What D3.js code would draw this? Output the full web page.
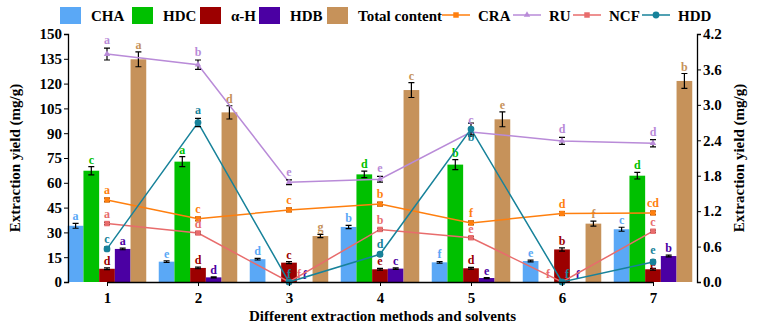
<!DOCTYPE html>
<html>
<head>
<meta charset="utf-8">
<script src="https://cdn.jsdelivr.net/npm/d3@7"></script>
<style>
  body { margin: 0; background: #fff; }
  svg text { font-family: "Liberation Serif", "Tinos", "Times New Roman", "DejaVu Serif", serif !important; font-weight: bold; }
</style>
</head>
<body>
<svg width="759" height="329"></svg>
<script>
'use strict';

const groups = ["1", "2", "3", "4", "5", "6", "7"];

// bar series (left axis, mg/g)
const cha = [34, 12.3, 13.8, 33.3, 11.9, 12.7, 31.9];
const chaErr = [1.5, 0.5, 0.5, 1, 0.5, 0.5, 1.2];
const chaSig = ["a", "e", "d", "b", "f", "e", "c"];
const hdc = [67.3, 72.8, 0, 65.1, 71, 0, 64.3];
const hdcErr = [2.5, 3, 0, 2, 3, 0, 2];
const hdcSig = ["c", "a", "", "d", "b", "", "d"];
const alphaH = [8, 8.5, 11.7, 7.7, 8.3, 19.7, 7.7];
const alphaHErr = [0.5, 0.5, 0.6, 0.5, 0.5, 1, 0.5];
const alphaHSig = ["d", "d", "c", "e", "d", "b", "e"];
const hdb = [20, 2.8, 0, 8.1, 2.4, 0, 15.7];
const hdbErr = [0.5, 0.3, 0, 0.5, 0.3, 0, 0.5];
const hdbSig = ["a", "d", "f", "c", "e", "f", "b"];
const total = [134.7, 102.6, 27.8, 116.1, 98.4, 35.3, 121.6];
const totalErr = [4.5, 4, 1, 4.5, 4.5, 1.5, 4.5];
const totalSig = ["a", "d", "g", "c", "e", "f", "b"];

// line series (right axis, mg/g)
const cra = [1.39, 1.07, 1.22, 1.32, 1.00, 1.16, 1.17];
const craErr = [0.03, 0.03, 0.03, 0.03, 0.03, 0.03, 0.03];
const craSig = ["a", "c", "c", "b", "f", "d", "cd"];
const ru = [3.86, 3.68, 1.69, 1.74, 2.54, 2.39, 2.35];
const ruErr = [0.1, 0.08, 0.04, 0.05, 0.07, 0.06, 0.06];
const ruSig = ["a", "b", "e", "e", "c", "d", "d"];
const ncf = [0.99, 0.83, 0, 0.89, 0.75, 0, 0.86];
const ncfErr = [0.02, 0.02, 0, 0.02, 0.02, 0, 0.02];
const ncfSig = ["a", "d", "f", "b", "e", "f", "c"];
const hdd = [0.56, 2.70, 0, 0.47, 2.59, 0, 0.34];
const hddErr = [0.03, 0.07, 0, 0.03, 0.1, 0, 0.03];
const hddSig = ["c", "a", "f", "d", "b", "f", "e"];

const bars = [
  {name: "CHA", color: "#5aa8f6", values: cha, err: chaErr, sig: chaSig},
  {name: "HDC", color: "#00c000", values: hdc, err: hdcErr, sig: hdcSig},
  {name: "α-H", color: "#9c0000", values: alphaH, err: alphaHErr, sig: alphaHSig},
  {name: "HDB", color: "#4b00a3", values: hdb, err: hdbErr, sig: hdbSig},
  {name: "Total content", color: "#c6925a", values: total, err: totalErr, sig: totalSig}
];
const lines = [
  {name: "CRA", color: "#ff7f0e", symbol: d3.symbolSquare, size: 30, values: cra, err: craErr, sig: craSig},
  {name: "RU", color: "#b98bd8", symbol: d3.symbolTriangle, size: 18, values: ru, err: ruErr, sig: ruSig},
  {name: "NCF", color: "#e86c6c", symbol: d3.symbolSquare, size: 30, values: ncf, err: ncfErr, sig: ncfSig},
  {name: "HDD", color: "#17829a", symbol: d3.symbolCircle, size: 36, values: hdd, err: hddErr, sig: hddSig}
];

const svg = d3.select("svg");
const marginLeft = 68, marginTop = 34, width = 629, height = 248;
const g = svg.append("g").attr("transform", `translate(${marginLeft},${marginTop})`);

const x = d3.scalePoint().domain(groups).range([39, 585]);
const xSub = d3.scaleBand().domain(bars.map(d => d.name)).range([-39.25, 39.25]);
const yL = d3.scaleLinear().domain([0, 150]).range([height, 0]);
const yR = d3.scaleLinear().domain([0, 4.2]).range([height, 0]);

function errPath(cx, y1, y2) {
  return `M${cx - 3},${y1}H${cx + 3}M${cx},${y1}V${y2}M${cx - 3},${y2}H${cx + 3}`;
}

// label nudges for crowded spots
const nudge = {"HDD-4": {dy: 22}, "NCF-2": {dx: 10}, "NCF-5": {dx: -14}, "HDD-5": {dx: 5},
  "HDD-6": {dy: -2}, "α-H-6": {dy: 4}};

// bars
bars.forEach(s => {
  groups.forEach((grp, i) => {
    const v = s.values[i];
    const bx = x(grp) + xSub(s.name);
    g.append("rect")
      .attr("x", bx).attr("width", xSub.bandwidth())
      .attr("y", yL(v)).attr("height", height - yL(v))
      .attr("fill", s.color);
  });
});
bars.forEach(s => {
  groups.forEach((grp, i) => {
    const v = s.values[i];
    const cx = x(grp) + xSub(s.name) + xSub.bandwidth() / 2;
    const n = nudge[`${s.name}-${i}`] || {};
    if (s.err[i] > 0) {
      g.append("path")
        .attr("d", errPath(cx, yL(v + s.err[i]), yL(v - s.err[i])))
        .attr("stroke", "#000").attr("stroke-width", 1.2).attr("fill", "none");
    }
    if (s.sig[i]) {
      g.append("text")
        .attr("x", cx + (n.dx || 0)).attr("y", yL(v + s.err[i]) - 3 + (n.dy || 0))
        .attr("text-anchor", "middle").attr("font-size", 12)
        .attr("fill", s.color).text(s.sig[i]);
    }
  });
});

lines.forEach(s => {
  const pts = groups.map((grp, i) => [x(grp), yR(s.values[i])]);
  g.append("path")
    .attr("d", d3.line()(pts))
    .attr("fill", "none").attr("stroke", s.color).attr("stroke-width", 1.5);
  groups.forEach((grp, i) => {
    const v = s.values[i], cx = x(grp);
    if (s.err[i] > 0) {
      g.append("path")
        .attr("d", errPath(cx, yR(v + s.err[i]), yR(v - s.err[i])))
        .attr("stroke", "#000").attr("stroke-width", 1.2).attr("fill", "none");
    }
    g.append("path")
      .attr("d", d3.symbol(s.symbol, s.size)())
      .attr("transform", `translate(${cx},${yR(v)})`)
      .attr("fill", s.color);
  });
});

lines.forEach(s => {
  groups.forEach((grp, i) => {
    const v = s.values[i];
    const n = nudge[`${s.name}-${i}`] || {};
    g.append("text")
      .attr("x", x(grp) + (n.dx || 0))
      .attr("y", yR(v + s.err[i]) - 4 + (n.dy || 0))
      .attr("text-anchor", "middle").attr("font-size", 12)
      .attr("fill", s.color).text(s.sig[i]);
  });
});

// axes
const tickFont = sel => sel.selectAll("text").attr("font-size", 15).attr("fill", "#000");

g.append("g").call(d3.axisLeft(yL).tickValues(d3.range(0, 151, 15)).tickSize(4).tickPadding(2))
  .call(tickFont).call(a => a.select(".domain").attr("stroke-width", 1.3));
g.append("g").attr("transform", `translate(${width},0)`)
  .call(d3.axisRight(yR).tickValues(d3.range(0, 4.21, 0.6)).tickFormat(d3.format(".1f")).tickSize(4).tickPadding(2))
  .call(tickFont).call(a => a.select(".domain").attr("stroke-width", 1.3));
g.append("g").attr("transform", `translate(0,${height})`)
  .call(d3.axisBottom(x).tickSize(4).tickPadding(6).tickSizeOuter(0))
  .call(tickFont).call(a => a.select(".domain").attr("stroke-width", 1.3));

svg.append("text")
  .attr("transform", `translate(20,${marginTop + height / 2}) rotate(-90)`)
  .attr("text-anchor", "middle").attr("font-size", 15).text("Extraction yield (mg/g)");
svg.append("text")
  .attr("transform", `translate(744,${marginTop + height / 2}) rotate(-90)`)
  .attr("text-anchor", "middle").attr("font-size", 15).text("Extraction yield (mg/g)");
svg.append("text")
  .attr("x", marginLeft + width / 2).attr("y", 321)
  .attr("text-anchor", "middle").attr("font-size", 15).text("Different extraction methods and solvents");

// legend
const legend = svg.append("g");
const barLegX = [60, 132, 200, 259, 327];
bars.forEach((s, i) => {
  legend.append("rect").attr("x", barLegX[i]).attr("y", 7).attr("width", 21).attr("height", 17).attr("fill", s.color);
  legend.append("text").attr("x", barLegX[i] + 31).attr("y", 21).attr("font-size", 15).text(s.name);
});
const lineLegX = [442, 513, 573, 642];
lines.forEach((s, i) => {
  const lx = lineLegX[i];
  legend.append("line").attr("x1", lx).attr("x2", lx + 28).attr("y1", 15).attr("y2", 15)
    .attr("stroke", s.color).attr("stroke-width", 1.5);
  legend.append("path").attr("d", d3.symbol(s.symbol, s.size)())
    .attr("transform", `translate(${lx + 14},15)`).attr("fill", s.color);
  legend.append("text").attr("x", lx + 36).attr("y", 21).attr("font-size", 15).text(s.name);
});
</script>
</body>
</html>
